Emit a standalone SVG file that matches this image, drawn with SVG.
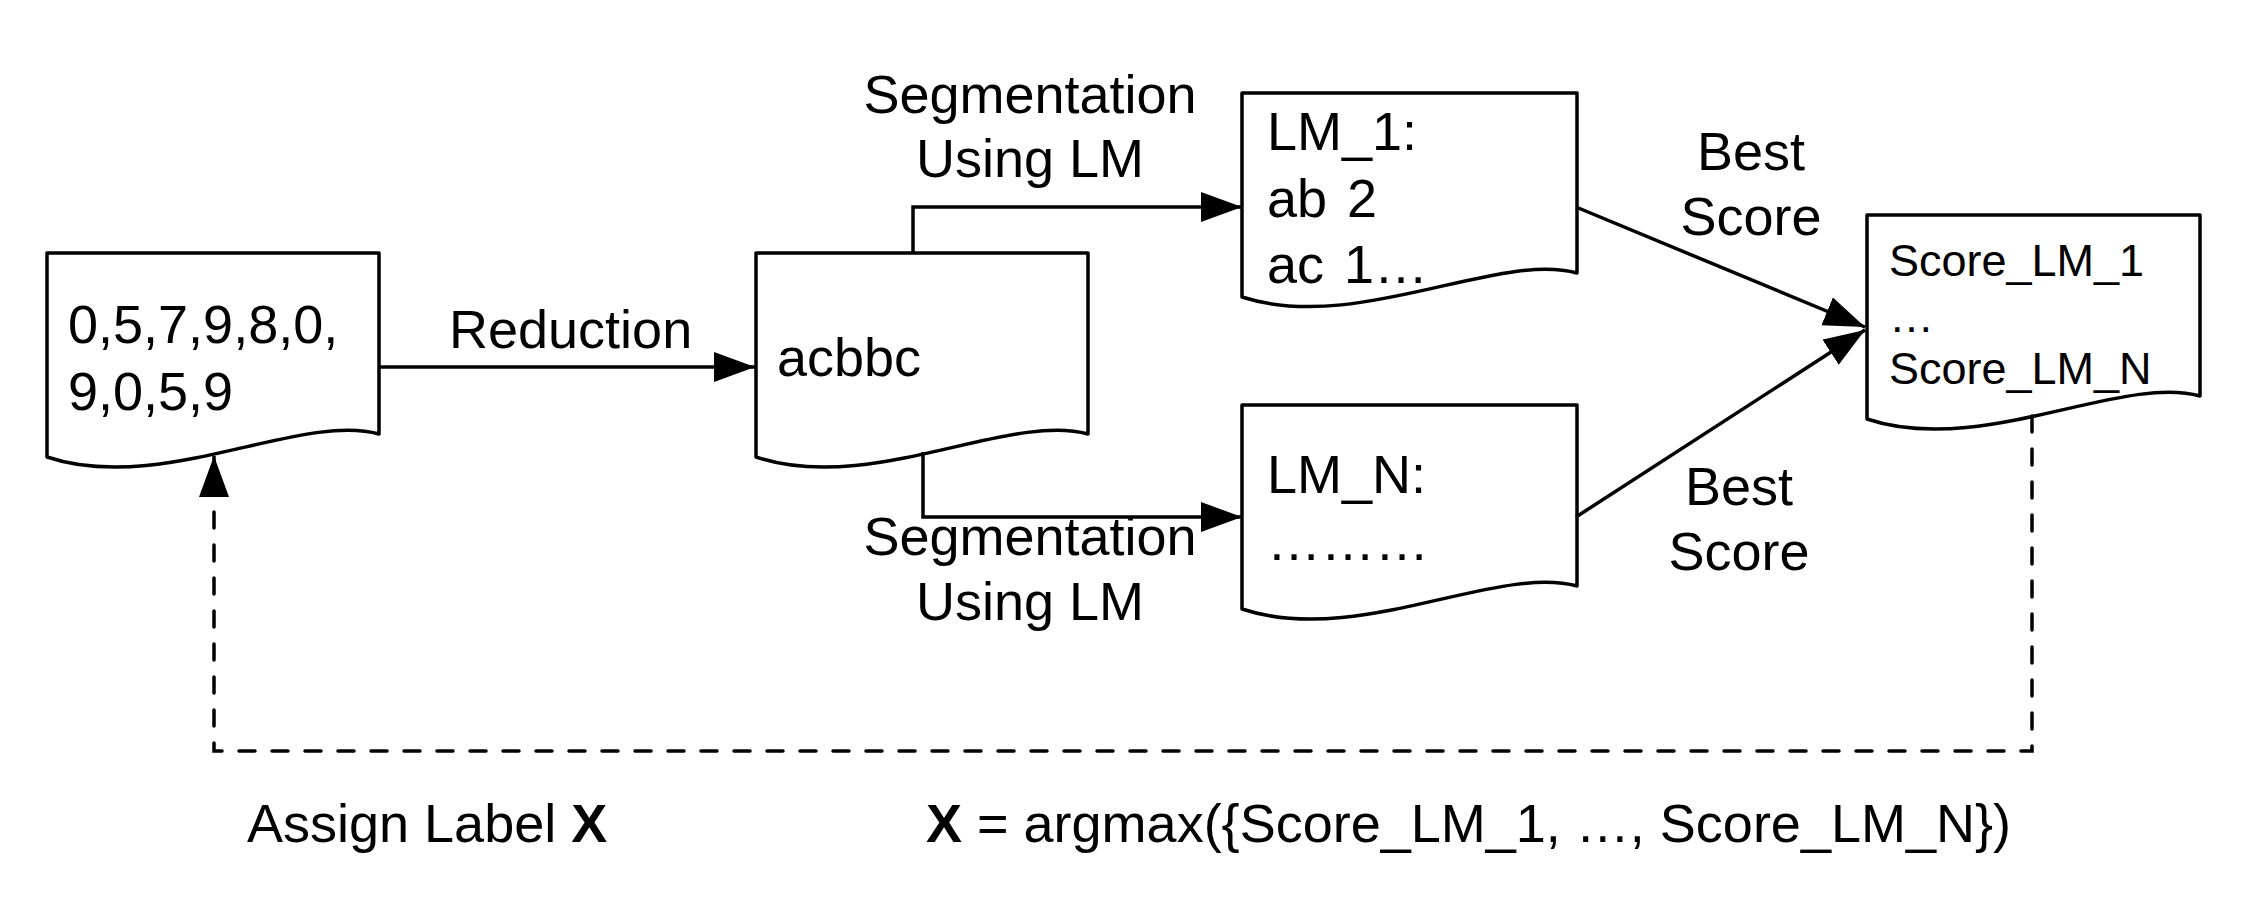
<svg xmlns="http://www.w3.org/2000/svg" width="2245" height="912" viewBox="0 0 2245 912">
<style>
.doc{fill:#fff;stroke:#000;stroke-width:3.5;stroke-linejoin:round}
.t{font-family:"Liberation Sans",Arial,Helvetica,sans-serif;font-size:54px;fill:#000}
.s{font-size:45px}
.c{text-anchor:middle}
.b{font-weight:bold}
.edge{fill:none;stroke:#000;stroke-width:3.5}
.dash{stroke-dasharray:16 17;stroke-linecap:round}
</style>
<defs>
<marker id="arr" markerUnits="userSpaceOnUse" markerWidth="42" markerHeight="31" refX="41" refY="15" orient="auto" viewBox="0 0 42 31">
<path d="M0,0 L41,15 L0,30 Z" fill="#000"/>
</marker>
</defs>
<rect width="2245" height="912" fill="#fff"/>

<g id="node-input">
<path class="doc" d="M47,253 H379 V434 C300,412 160,495 47,457 Z"/>
<text class="t" x="68" y="343">0,5,7,9,8,0,</text>
<text class="t" x="68" y="410">9,0,5,9</text>
</g>

<g id="node-reduced">
<path class="doc" d="M756,253 H1088 V434 C1009,412 869,495 756,457 Z"/>
<text class="t" x="777" y="376">acbbc</text>
</g>

<g id="node-lm1">
<path class="doc" d="M1242,93 H1577 V273 C1497,251 1356,334 1242,297 Z"/>
<text class="t" x="1267" y="150">LM_1:</text>
<text class="t" x="1267" y="217" style="word-spacing:5px">ab 2</text>
<text class="t" x="1267" y="283" style="word-spacing:5px">ac 1…</text>
</g>

<g id="node-lmn">
<path class="doc" d="M1242,405 H1577 V586 C1497,564 1356,647 1242,609 Z"/>
<text class="t" x="1267" y="493">LM_N:</text>
<text class="t" x="1267" y="560">………</text>
</g>

<g id="node-score">
<path class="doc" d="M1867,215 H2200 V396 C2121,374 1980,457 1867,419 Z"/>
<text class="t s" x="1889" y="276">Score_LM_1</text>
<text class="t s" x="1889" y="332">…</text>
<text class="t s" x="1889" y="384">Score_LM_N</text>
</g>

<g id="connectors">
<path class="edge" d="M379,367 H755" marker-end="url(#arr)"/>
<path class="edge" d="M913,253 V207 H1242" marker-end="url(#arr)"/>
<path class="edge" d="M923,452 V517 H1242" marker-end="url(#arr)"/>
<path class="edge" d="M1576,207 L1865,327" marker-end="url(#arr)"/>
<path class="edge" d="M1576,517 L1865,330" marker-end="url(#arr)"/>
<path class="edge dash" d="M2032,416 V751 H214 V470"/>
<path class="edge" d="M214,472 V456" marker-end="url(#arr)"/>
</g>

<g id="labels">
<text class="t" x="449" y="348">Reduction</text>
<text class="t c" x="1030" y="113">Segmentation</text>
<text class="t c" x="1030" y="177">Using LM</text>
<text class="t c" x="1030" y="555">Segmentation</text>
<text class="t c" x="1030" y="620">Using LM</text>
<text class="t c" x="1751" y="170">Best</text>
<text class="t c" x="1751" y="235">Score</text>
<text class="t c" x="1739" y="505">Best</text>
<text class="t c" x="1739" y="570">Score</text>
<text class="t" x="247" y="842">Assign Label <tspan class="b">X</tspan></text>
<text class="t" x="926" y="842"><tspan class="b">X</tspan> = argmax({Score_LM_1, …, Score_LM_N})</text>
</g>
</svg>
